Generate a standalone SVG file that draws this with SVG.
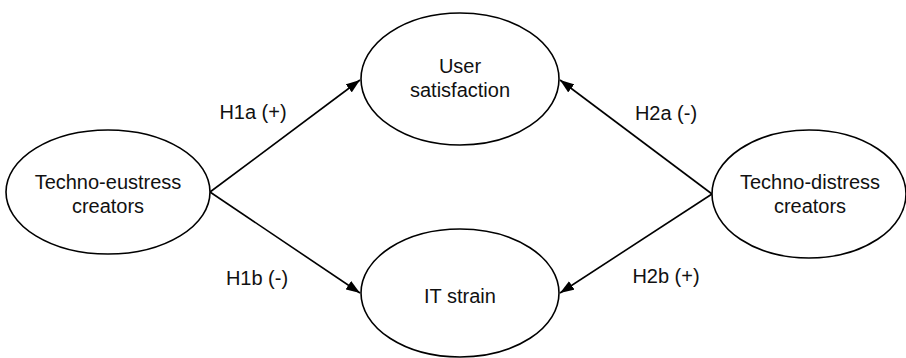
<svg xmlns="http://www.w3.org/2000/svg" width="906" height="358" viewBox="0 0 906 358">
<style>
.node ellipse{fill:#fff;stroke:#000;stroke-width:1.6}
text{font-family:"Liberation Sans",Arial,sans-serif;font-size:20px;fill:#111;text-anchor:middle}
.edge{stroke:#000;stroke-width:1.6;fill:none;marker-end:url(#arr)}
</style>
<defs>
<marker id="arr" viewBox="0 0 14 10" refX="14" refY="5" markerWidth="14" markerHeight="10" markerUnits="userSpaceOnUse" orient="auto">
<path d="M0,0 L14,5 L0,10 Z" fill="#000"/>
</marker>
</defs>
<g id="connectors">
<line class="edge" x1="210" y1="192" x2="360" y2="80"/>
<line class="edge" x1="210" y1="192" x2="360" y2="293"/>
<line class="edge" x1="712" y1="194" x2="560" y2="80"/>
<line class="edge" x1="712" y1="194" x2="560" y2="293"/>
</g>
<g id="labels">
<text x="253" y="119">H1a (+)</text>
<text x="257" y="285">H1b (-)</text>
<text x="666" y="120">H2a (-)</text>
<text x="666" y="283">H2b (+)</text>
</g>
<g id="n-eustress" class="node">
<ellipse cx="108" cy="192" rx="102" ry="62"/>
<text x="108" y="189">Techno-eustress</text>
<text x="108" y="213">creators</text>
</g>
<g id="n-user" class="node">
<ellipse cx="460" cy="79" rx="99" ry="66"/>
<text x="460" y="73">User</text>
<text x="460" y="97">satisfaction</text>
</g>
<g id="n-strain" class="node">
<ellipse cx="460" cy="293" rx="99" ry="64"/>
<text x="460" y="303">IT strain</text>
</g>
<g id="n-distress" class="node">
<ellipse cx="809" cy="194" rx="97" ry="64"/>
<text x="810" y="189">Techno-distress</text>
<text x="810" y="213">creators</text>
</g>
</svg>
